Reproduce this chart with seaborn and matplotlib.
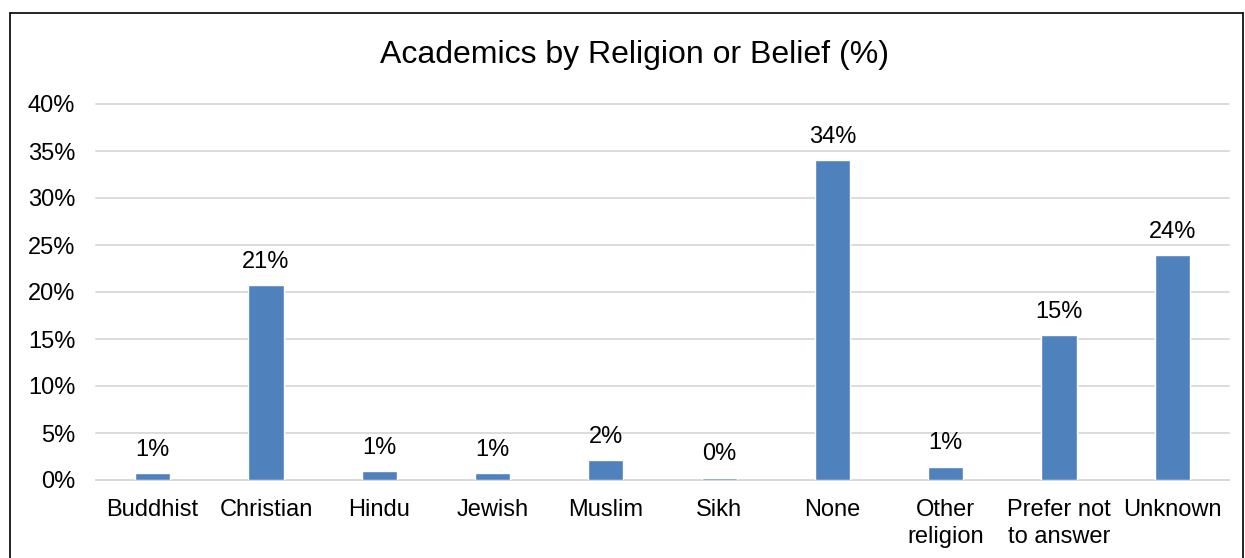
import matplotlib
matplotlib.use("Agg")
import matplotlib.pyplot as plt
from matplotlib.lines import Line2D
from matplotlib.ticker import MultipleLocator, FuncFormatter
import seaborn as sns
import pandas as pd

categories = ["Buddhist", "Christian", "Hindu", "Jewish", "Muslim", "Sikh",
              "None", "Other\nreligion", "Prefer not\nto answer", "Unknown"]
values = [0.74, 20.7, 0.96, 0.71, 2.13, 0.25, 34.0, 1.42, 15.4, 23.9]
title = "Academics by Religion or Belief (%)"

sns.set_style("white")
plt.rcParams['font.family'] = ['Liberation Sans', 'DejaVu Sans']

W, H = 1245, 558
FS = 17
fig = plt.figure(figsize=(W / 100, H / 100), dpi=100)
ax = fig.add_axes([96 / W, 1 - 480 / H, (1229 - 96) / W, (480 - 104) / H])

df = pd.DataFrame({"cat": categories, "val": values})
sns.barplot(data=df, x="cat", y="val", color="#4F81BD", saturation=1,
            width=0.31, ax=ax, zorder=3)

ax.set_ylim(0, 40)
ax.set_xlim(-0.5, len(categories) - 0.5)
ax.yaxis.set_major_locator(MultipleLocator(5))
ax.yaxis.set_major_formatter(FuncFormatter(lambda v, p: f"{v:.0f}%"))
ax.grid(axis="y", color="#D9D9D9", linewidth=1.3, zorder=0)
for gl in ax.get_ygridlines():
    gl.set_clip_on(False)
ax.set_axisbelow(True)
for s in ["top", "right", "left"]:
    ax.spines[s].set_visible(False)
ax.spines["bottom"].set_color("#D9D9D9")
ax.spines["bottom"].set_linewidth(1.3)
ax.set_xlabel("")
ax.set_ylabel("")
ax.tick_params(axis="y", length=0, pad=15, labelsize=FS, labelcolor="black")
ax.tick_params(axis="x", length=0, pad=14, labelsize=FS, labelcolor="black")
for lbl in ax.get_xticklabels():
    lbl.set_linespacing(1.25)

for i, v in enumerate(values):
    ax.annotate(f"{v:.0f}%", (i, v), xytext=(0, 12.5), textcoords="offset points",
                ha="center", va="baseline", fontsize=FS, color="black")

fig.text(634 / W, 1 - 63.5 / H, title, ha="center", va="baseline",
         fontsize=23, color="black")

# outer chart border (left, top, right)
bx0, by0, bx1 = 10 / W, 1 - 13 / H, 1243 / W
fig.add_artist(Line2D([bx0, bx0], [0, by0], transform=fig.transFigure,
                      color="black", linewidth=1.2))
fig.add_artist(Line2D([bx0, bx1], [by0, by0], transform=fig.transFigure,
                      color="black", linewidth=1.2))
fig.add_artist(Line2D([bx1, bx1], [0, by0], transform=fig.transFigure,
                      color="black", linewidth=1.2))

fig.savefig("out.png", dpi=100)
